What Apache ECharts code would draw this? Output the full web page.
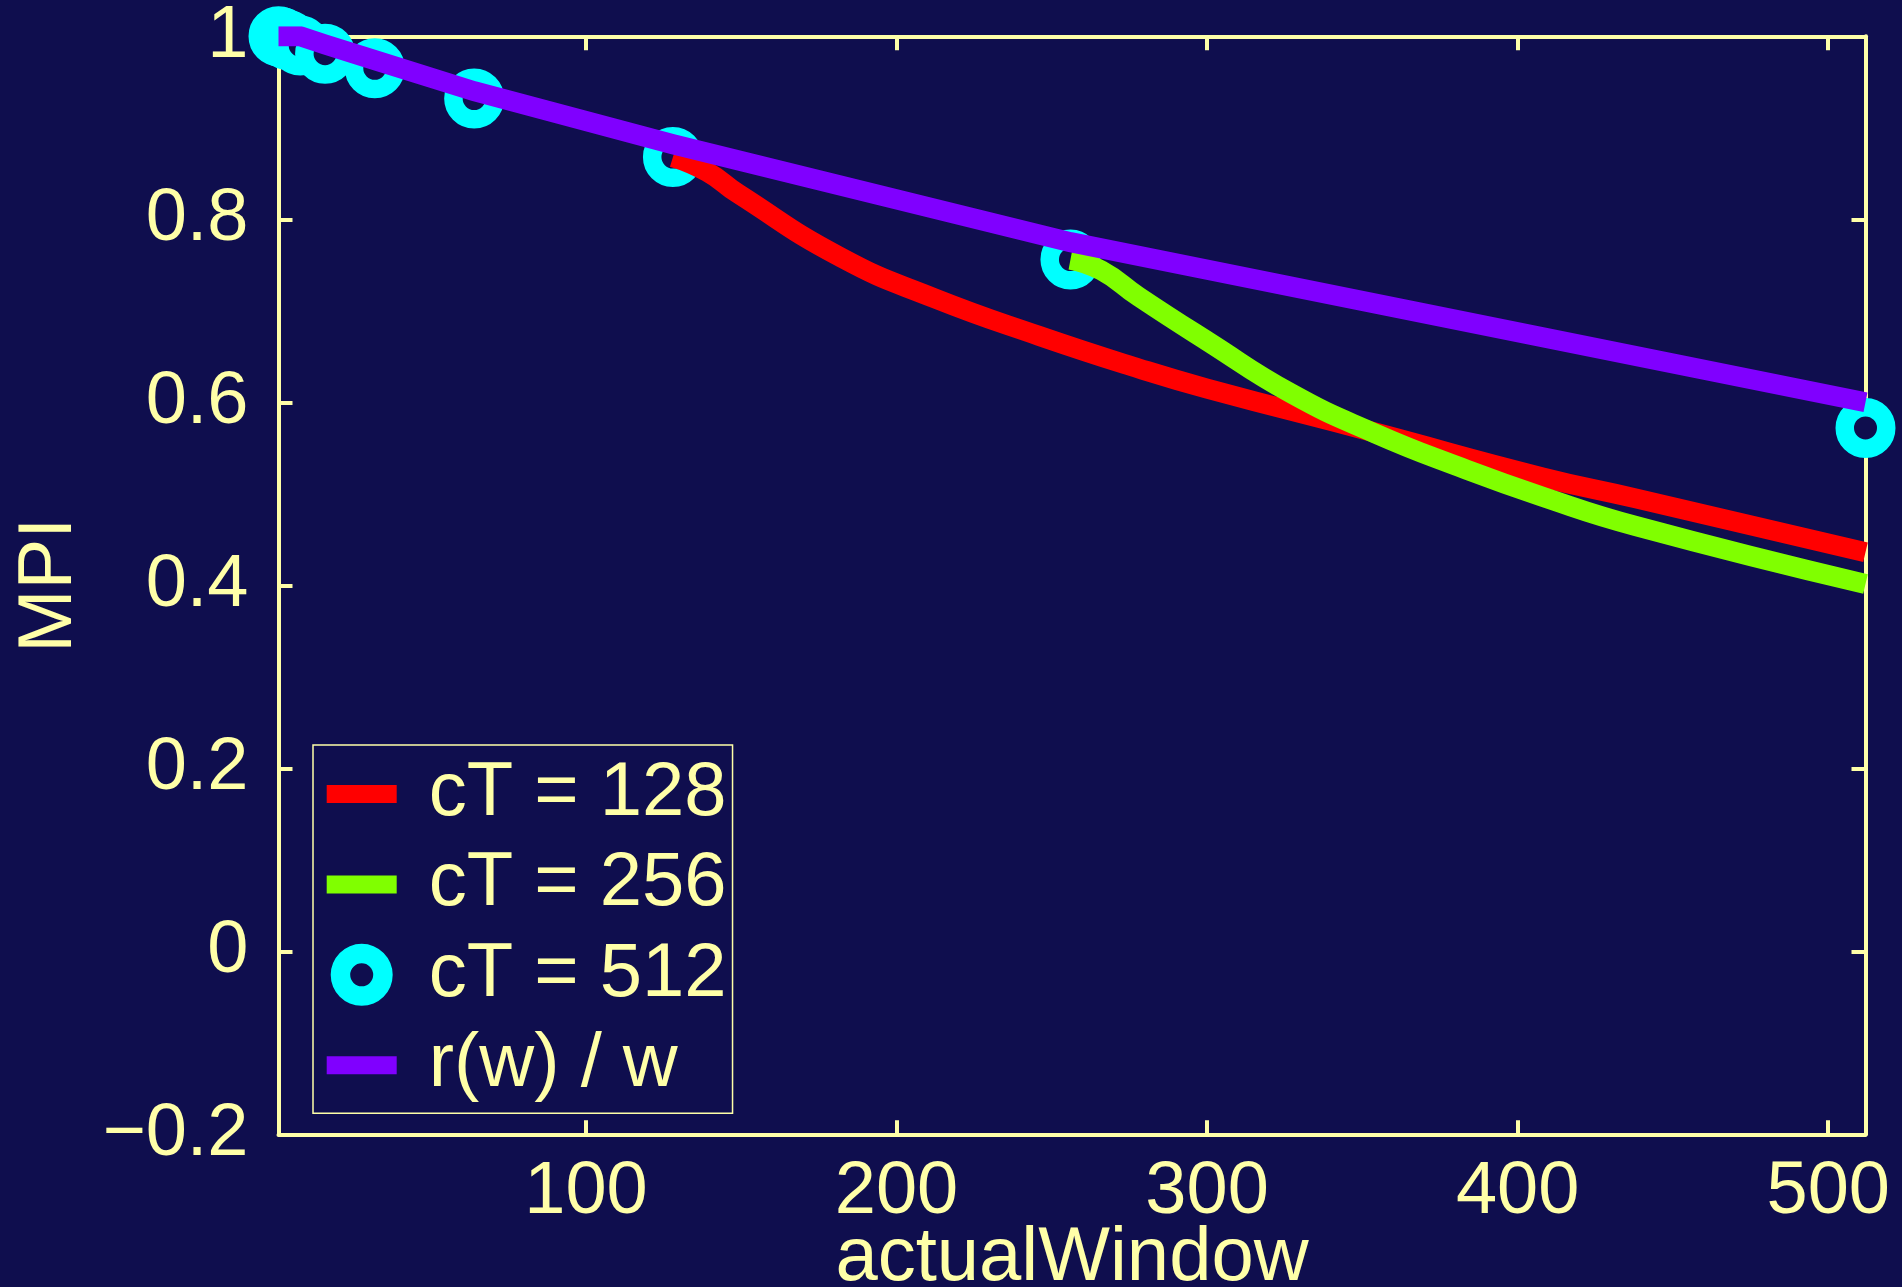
<!DOCTYPE html>
<html>
<head>
<meta charset="utf-8">
<script src="https://cdn.jsdelivr.net/npm/echarts@6/dist/echarts.min.js"></script>
<style>
html,body{margin:0;padding:0;background:#0F0E4E;}
#c{width:1902px;height:1287px;}
</style>
</head>
<body>
<div id="c"></div>
<script>
// ---- data ----
const windowsX = [1, 2, 4, 8, 16, 32, 64, 128, 256, 512];
const ct512Y   = [1.0, 0.999, 0.996, 0.99, 0.981, 0.965, 0.932, 0.868, 0.756, 0.572];
const rOverWY  = [1.0, 1.0, 1.0, 1.0, 0.991, 0.974, 0.94, 0.882, 0.775, 0.600];
const ct128X   = [128, 139, 149, 182, 212, 246, 278, 300, 354, 408, 438, 512];
const ct128Y   = [0.868, 0.852, 0.828, 0.7585, 0.714, 0.6725, 0.637, 0.615, 0.567, 0.518, 0.495, 0.436];
const ct256X   = [256, 266, 278, 300, 327, 354, 381, 408, 438, 512];
const ct256Y   = [0.756, 0.744, 0.7154, 0.667, 0.6098, 0.5661, 0.5296, 0.4968, 0.4648, 0.4014];
const xTicks   = [100, 200, 300, 400, 500];
const yTicks   = [-0.2, 0, 0.2, 0.4, 0.6, 0.8, 1];
const seriesNames = ['cT = 128', 'cT = 256', 'cT = 512', 'r(w) / w'];
const xName = 'actualWindow';
const yName = 'MPI';

// ---- styles ----
const FG = '#FFFFA8', BG = '#0F0E4E';
const RED = '#FF0000', GREEN = '#80FF00', CYAN = '#00FFFF', PURPLE = '#8000FF';
const FONT = "'Liberation Sans', Arial, Helvetica, sans-serif";
const zip = (xs, ys) => xs.map((x, i) => [x, ys[i]]);
const lineIcon = 'path://M0,0M97,72M0,27L70,27L70,45L0,45Z';
const ringIcon = 'path://M0,0M97,72M4,36A31,31,0,1,1,66,36A31,31,0,1,1,4,36ZM23.5,36A11.5,11.5,0,1,0,46.5,36A11.5,11.5,0,1,0,23.5,36Z';

const axisLine = {show: true, onZero: false, lineStyle: {color: FG, width: 4}};
const tickStyle = {color: FG, width: 4};
const fmtY = v => {
  const s = String(Math.round(v * 10) / 10);
  return s.replace('-', '\u2212');
};

const chart = echarts.init(document.getElementById('c'), null, {renderer: 'canvas'});
chart.setOption({
  backgroundColor: BG,
  animation: false,
  textStyle: {fontFamily: FONT},
  grid: {left: 278.5, right: 36.5, top: 36.3, bottom: 152.7, containLabel: false, outerBoundsMode: 'none'},
  xAxis: [
    {
      type: 'value', min: 1, max: 512, position: 'bottom',
      axisLine: axisLine,
      axisTick: {show: true, inside: true, length: 14, lineStyle: tickStyle, customValues: xTicks},
      axisLabel: {show: true, customValues: xTicks, margin: 21, color: FG, fontSize: 74, fontFamily: FONT},
      splitLine: {show: false},
      name: xName, nameLocation: 'middle', nameGap: 86.5, nameMoveOverlap: false,
      nameTextStyle: {color: FG, fontSize: 76, fontFamily: FONT}
    },
    {
      type: 'value', min: 1, max: 512, position: 'top',
      axisLine: axisLine,
      axisTick: {show: true, inside: true, length: 14, lineStyle: tickStyle, customValues: xTicks},
      axisLabel: {show: false},
      splitLine: {show: false}
    }
  ],
  yAxis: [
    {
      type: 'value', min: -0.2, max: 1, interval: 0.2, position: 'left',
      axisLine: axisLine,
      axisTick: {show: true, inside: true, length: 14, lineStyle: tickStyle, customValues: yTicks},
      axisLabel: {show: true, customValues: yTicks, formatter: fmtY, margin: 30, color: FG, fontSize: 74, fontFamily: FONT},
      splitLine: {show: false},
      name: yName, nameLocation: 'middle', nameRotate: 90, nameGap: 190, nameMoveOverlap: false,
      nameTextStyle: {color: FG, fontSize: 76, fontFamily: FONT}
    },
    {
      type: 'value', min: -0.2, max: 1, interval: 0.2, position: 'right',
      axisLine: axisLine,
      axisTick: {show: true, inside: true, length: 14, lineStyle: tickStyle, customValues: yTicks},
      axisLabel: {show: false},
      splitLine: {show: false}
    }
  ],
  legend: {
    orient: 'vertical', left: 313, top: 745,
    padding: [11, 6, 10, 13.7], itemGap: 14.4, itemWidth: 97, itemHeight: 72,
    symbolKeepAspect: true, selectedMode: false,
    borderColor: FG, borderWidth: 1.5, backgroundColor: BG,
    textStyle: {color: FG, fontSize: 76, fontFamily: FONT, lineHeight: 72},
    data: [
      {name: seriesNames[0], icon: lineIcon, itemStyle: {color: RED, borderWidth: 0}},
      {name: seriesNames[1], icon: lineIcon, itemStyle: {color: GREEN, borderWidth: 0}},
      {name: seriesNames[2], icon: ringIcon, itemStyle: {color: CYAN, borderWidth: 0}},
      {name: seriesNames[3], icon: lineIcon, itemStyle: {color: PURPLE, borderWidth: 0}}
    ]
  },
  series: [
    {
      name: seriesNames[0], type: 'line', xAxisIndex: 0, yAxisIndex: 0,
      data: zip(ct128X, ct128Y), showSymbol: false, symbol: 'none', smooth: 0.5,
      lineStyle: {color: RED, width: 20, cap: 'butt', join: 'miter'}, itemStyle: {color: RED}
    },
    {
      name: seriesNames[1], type: 'line', xAxisIndex: 0, yAxisIndex: 0,
      data: zip(ct256X, ct256Y), showSymbol: false, symbol: 'none', smooth: 0.5,
      lineStyle: {color: GREEN, width: 20, cap: 'butt', join: 'miter'}, itemStyle: {color: GREEN}
    },
    {
      name: seriesNames[2], type: 'scatter', xAxisIndex: 0, yAxisIndex: 0,
      data: zip(windowsX, ct512Y), symbol: 'circle', symbolSize: 41.5, clip: false,
      itemStyle: {color: BG, borderColor: CYAN, borderWidth: 18.5, opacity: 1}
    },
    {
      name: seriesNames[3], type: 'line', xAxisIndex: 0, yAxisIndex: 0,
      data: zip(windowsX, rOverWY), showSymbol: false, symbol: 'none', smooth: false,
      lineStyle: {color: PURPLE, width: 20, cap: 'butt', join: 'miter'}, itemStyle: {color: PURPLE}
    }
  ]
});
</script>
</body>
</html>
